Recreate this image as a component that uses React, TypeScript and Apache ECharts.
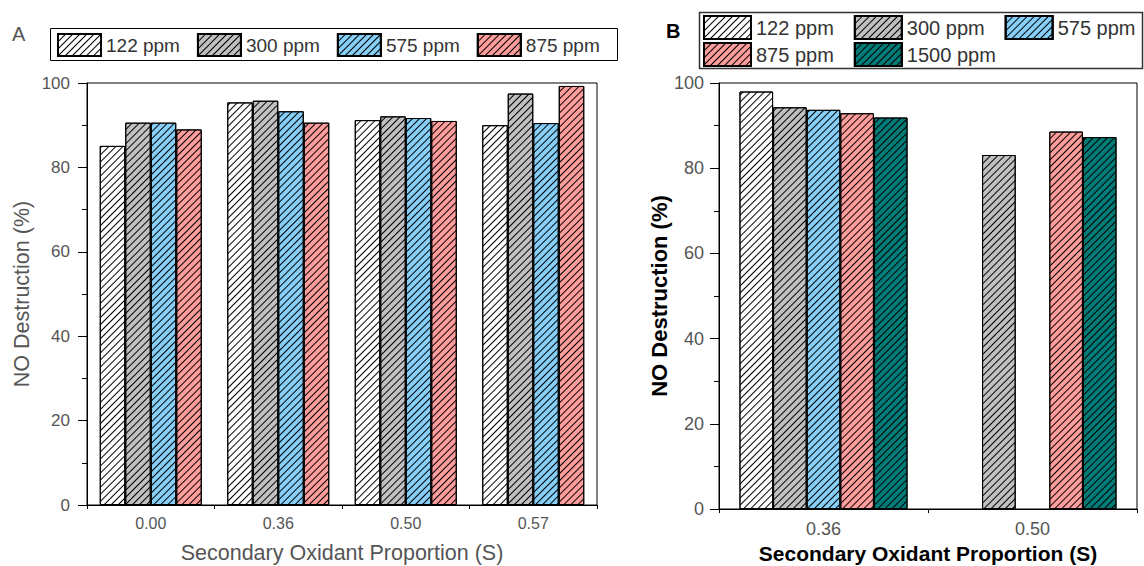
import React, { useEffect, useRef } from "react";
import * as echarts from "echarts";

const catsA = ["0.00", "0.36", "0.50", "0.57"];
const namesA = ["122 ppm", "300 ppm", "575 ppm", "875 ppm"];
const v122A = [85.1, 95.4, 91.2, 90.0];
const v300A = [90.6, 95.8, 92.1, 97.5];
const v575A = [90.6, 93.3, 91.7, 90.5];
const v875A = [89.0, 90.6, 91.0, 99.3];

const catsB = ["0.36", "0.50"];
const namesB = ["122 ppm", "300 ppm", "575 ppm", "875 ppm", "1500 ppm"];
const v122B = [98.0, null];
const v300B = [94.3, 83.1];
const v575B = [93.7, null];
const v875B = [92.9, 88.6];
const v1500B = [91.9, 87.3];

const colorOf: Record<string, string> = {
  "122 ppm": "#ffffff",
  "300 ppm": "#c0c0c0",
  "575 ppm": "#86cff8",
  "875 ppm": "#ff9c9c",
  "1500 ppm": "#007c78",
};

const FONT = "'Liberation Sans', Arial, sans-serif";

function hatch(gap: number) {
  return {
    symbol: "rect",
    symbolSize: 1,
    dashArrayX: [1, 0],
    dashArrayY: [0.9, gap],
    rotation: -Math.PI / 4,
    color: "#000",
  };
}

function barSeries(name: string, data: (number | null)[], idx: number, gap: number, catGap: string) {
  return {
    type: "bar",
    name,
    data,
    xAxisIndex: idx,
    yAxisIndex: idx,
    barGap: "0%",
    barCategoryGap: catGap,
    itemStyle: {
      color: colorOf[name],
      borderColor: "#000",
      borderWidth: 1,
      decal: hatch(gap),
    },
  };
}

export default function App() {
  const ref = useRef<HTMLDivElement>(null);
  useEffect(() => {
    if (!ref.current) return;
    const chart = echarts.init(ref.current, undefined, { renderer: "svg" });
    const yAxisBase = (grid: number, labelSize: number, margin: number, name: string, nameStyle: any, gap: number) => ({
      gridIndex: grid,
      type: "value",
      min: 0,
      max: 100,
      interval: 20,
      axisLine: { show: true, lineStyle: { color: "#000", width: 1 } },
      axisTick: { show: true, length: 9, lineStyle: { color: "#000" } },
      minorTick: { show: true, splitNumber: 2, length: 5, lineStyle: { color: "#000" } },
      splitLine: { show: false },
      axisLabel: { fontSize: labelSize, color: "#555", margin, fontFamily: FONT },
      name,
      nameLocation: "middle",
      nameGap: gap,
      nameTextStyle: { fontFamily: FONT, ...nameStyle },
    });
    const xAxisBase = (grid: number, cats: string[], labelSize: number, name: string, nameStyle: any, gap: number, margin: number) => ({
      gridIndex: grid,
      type: "category",
      data: cats,
      axisLine: { show: true, lineStyle: { color: "#000", width: 1 } },
      axisTick: { show: true, length: 4, lineStyle: { color: "#000" } },
      axisLabel: { fontSize: labelSize, color: "#555", margin, fontFamily: FONT },
      name,
      nameLocation: "middle",
      nameGap: gap,
      nameTextStyle: { fontFamily: FONT, ...nameStyle },
    });
    chart.setOption({
      animation: false,
      backgroundColor: "#fff",
      title: [
        { text: "A", left: 7, top: 19, textStyle: { fontSize: 20, fontWeight: "normal", color: "#555", fontFamily: FONT } },
        { text: "B", left: 661, top: 16, textStyle: { fontSize: 20, fontWeight: "bold", color: "#000", fontFamily: FONT } },
      ],
      legend: [
        {
          data: namesA,
          left: 57,
          top: 33,
          padding: 0,
          itemWidth: 43,
          itemHeight: 22,
          itemGap: 17,
          icon: "rect",
          selectedMode: false,
          textStyle: { fontSize: 19, color: "#333", fontFamily: FONT },
        },
        {
          data: namesB.slice(0, 3),
          left: 703,
          top: 15,
          padding: 0,
          itemWidth: 47,
          itemHeight: 23,
          itemGap: 20,
          icon: "rect",
          selectedMode: false,
          textStyle: { fontSize: 20, color: "#333", fontFamily: FONT },
        },
        {
          data: namesB.slice(3),
          left: 703,
          top: 42,
          padding: 0,
          itemWidth: 47,
          itemHeight: 23,
          itemGap: 20,
          icon: "rect",
          selectedMode: false,
          textStyle: { fontSize: 20, color: "#333", fontFamily: FONT },
        },
      ],
      graphic: [
        { type: "rect", shape: { x: 50.5, y: 28.5, width: 567, height: 32 }, style: { fill: "none", stroke: "#000", lineWidth: 1 } },
        { type: "rect", shape: { x: 699.5, y: 12.5, width: 443, height: 56 }, style: { fill: "none", stroke: "#333", lineWidth: 1.5 } },
      ],
      grid: [
        { left: 87, top: 83, width: 510, height: 422, show: true, borderColor: "#000", borderWidth: 1, outerBoundsMode: "none", containLabel: false },
        { left: 719, top: 83, width: 418, height: 426, show: true, borderColor: "#000", borderWidth: 1, outerBoundsMode: "none", containLabel: false },
      ],
      xAxis: [
        xAxisBase(0, catsA, 16, "Secondary Oxidant Proportion (S)", { fontSize: 21.5, color: "#555" }, 37, 10),
        xAxisBase(1, catsB, 18, "Secondary Oxidant Proportion (S)", { fontSize: 21, color: "#000", fontWeight: "bold" }, 33, 11),
      ],
      yAxis: [
        yAxisBase(0, 17, 17, "NO Destruction (%)", { fontSize: 21.5, color: "#555" }, 54),
        yAxisBase(1, 18, 15, "NO Destruction (%)", { fontSize: 22, color: "#000", fontWeight: "bold" }, 43),
      ],
      series: [
        barSeries("122 ppm", v122A, 0, 3.2, "20%"),
        barSeries("300 ppm", v300A, 0, 3.2, "20%"),
        barSeries("575 ppm", v575A, 0, 3.2, "20%"),
        barSeries("875 ppm", v875A, 0, 3.2, "20%"),
        barSeries("122 ppm", v122B, 1, 4, "19.6%"),
        barSeries("300 ppm", v300B, 1, 4, "19.6%"),
        barSeries("575 ppm", v575B, 1, 4, "19.6%"),
        barSeries("875 ppm", v875B, 1, 4, "19.6%"),
        barSeries("1500 ppm", v1500B, 1, 4, "19.6%"),
      ],
    });
    return () => chart.dispose();
  }, []);
  return <div ref={ref} style={{ position: "fixed", left: 0, top: 0, width: 1144, height: 566 }} />;
}
